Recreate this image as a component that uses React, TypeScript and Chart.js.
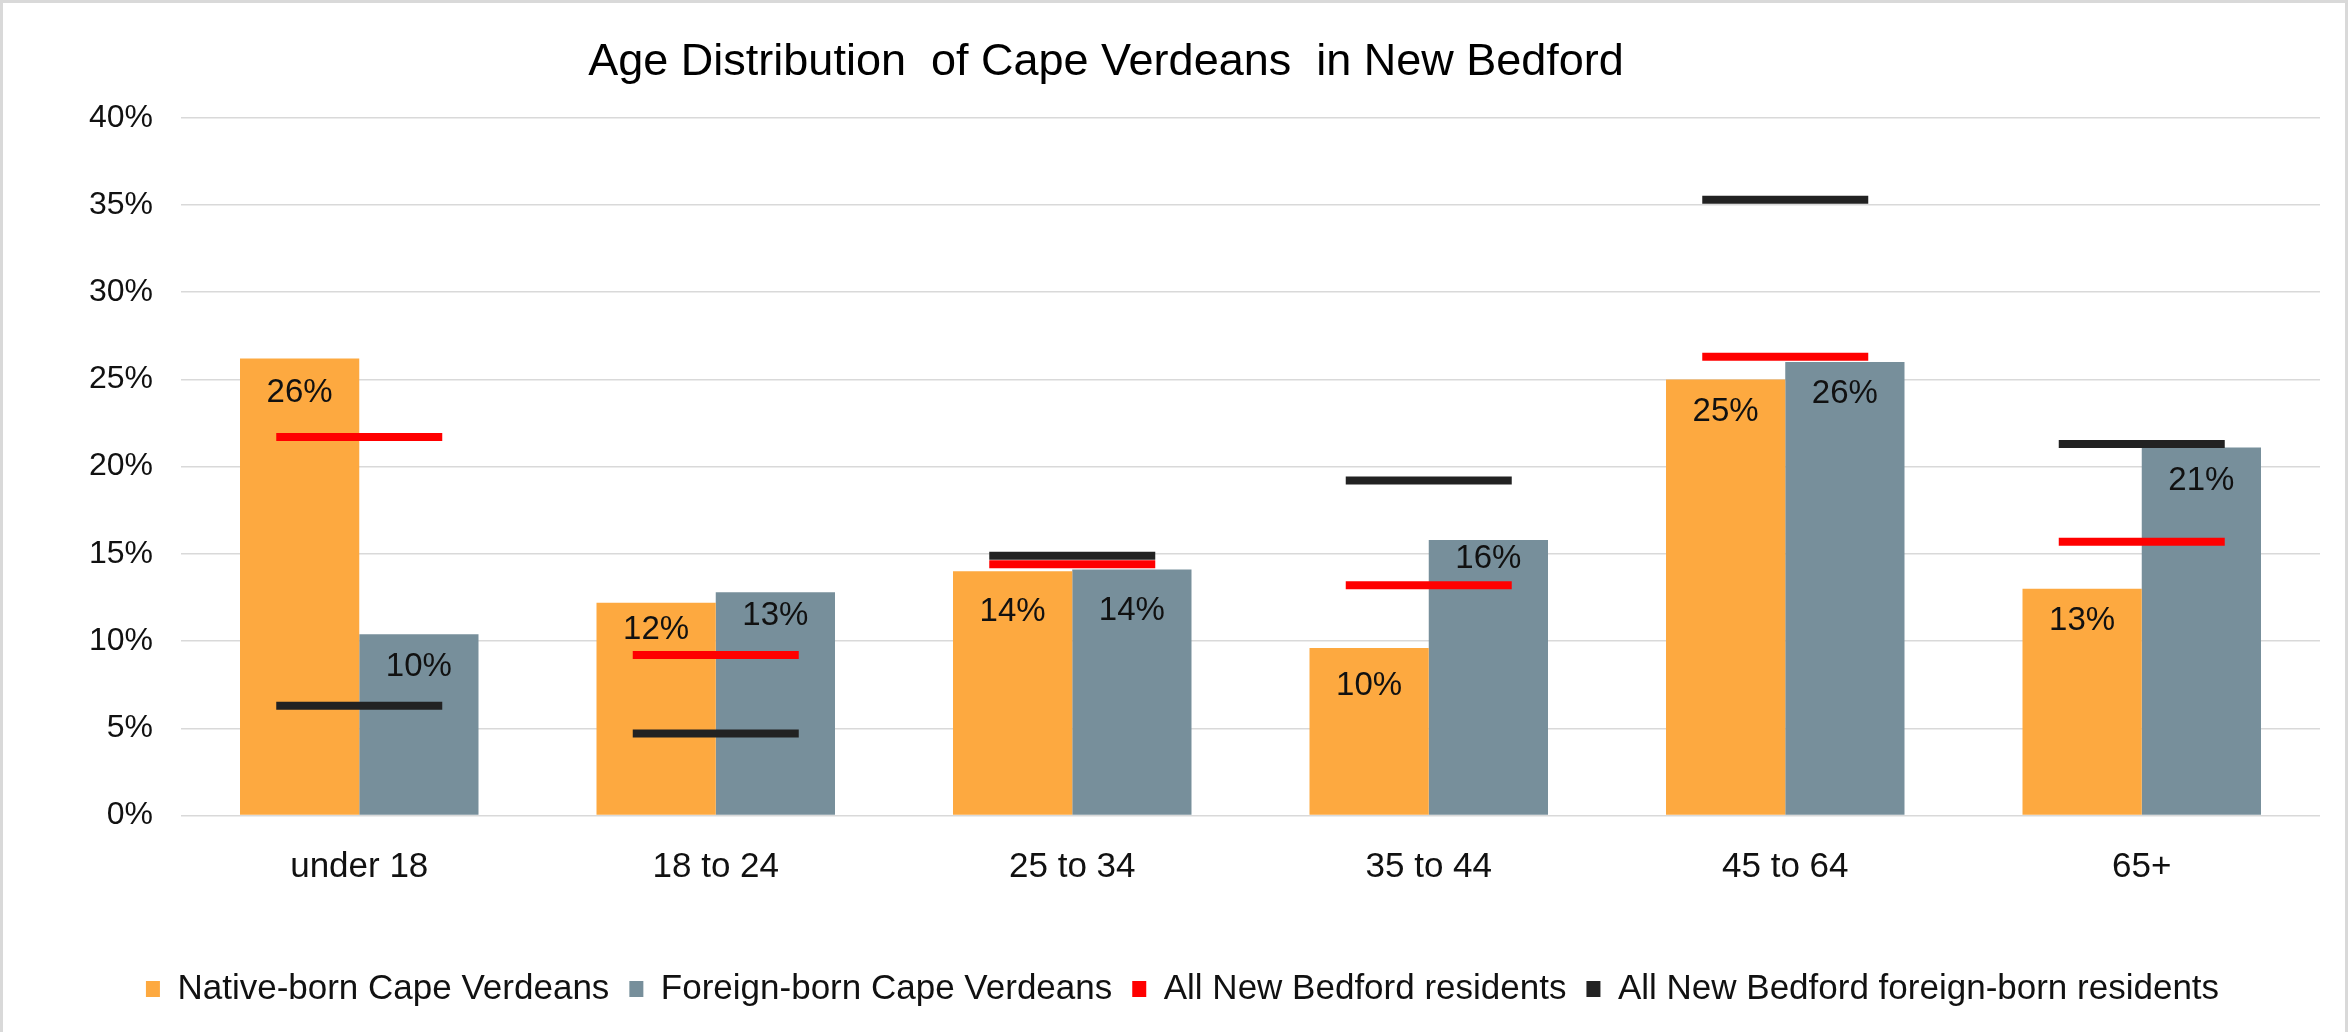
import React, { useEffect, useRef } from "react";
import { Chart, registerables } from "chart.js";

Chart.register(...registerables);

const TITLE = "Age Distribution  of Cape Verdeans  in New Bedford";
const CATEGORIES = ["under 18", "18 to 24", "25 to 34", "35 to 44", "45 to 64", "65+"];
const SERIES_NAMES = [
  "Native-born Cape Verdeans",
  "Foreign-born Cape Verdeans",
  "All New Bedford residents",
  "All New Bedford foreign-born residents",
];
const NATIVE_BORN = [26.2, 12.2, 14.0, 9.6, 25.0, 13.0];
const FOREIGN_BORN = [10.4, 12.8, 14.1, 15.8, 26.0, 21.1];
const ALL_RESIDENTS = [21.7, 9.2, 14.4, 13.2, 26.3, 15.7];
const ALL_FOREIGN_BORN = [6.3, 4.7, 14.9, 19.2, 35.3, 21.3];
const Y_MIN = 0;
const Y_MAX = 40;
const Y_STEP = 5;

// label nudges (px, relative to the default inside-end offset)
const LABEL_NUDGE = [
  [2, -5, 9, 6, 0, 0],
  [1, -8, 9, -13, 0, 1],
];

const FONT = "'Liberation Sans', Arial, sans-serif";
const COLORS = ["#FDA940", "#778F9B", "#FF0000", "#222222"];

const titlePlugin = {
  id: "customTitle",
  afterDraw(chart: any) {
    const ctx = chart.ctx;
    ctx.save();
    ctx.font = `45px ${FONT}`;
    ctx.fillStyle = "#000";
    ctx.textAlign = "center";
    ctx.textBaseline = "alphabetic";
    ctx.fillText(TITLE, chart.width * 0.471, 72);
    ctx.restore();
  },
};

const legendShiftPlugin = {
  id: "legendShift",
  afterLayout(chart: any) {
    const lg = chart.legend;
    if (lg) {
      lg.left += 21;
      lg.right += 21;
    }
  },
};

const labelPlugin = {
  id: "barLabels",
  afterDatasetsDraw(chart: any) {
    const ctx = chart.ctx;
    ctx.save();
    ctx.font = `33px ${FONT}`;
    ctx.fillStyle = "#111";
    ctx.textAlign = "center";
    ctx.textBaseline = "middle";
    [0, 1].forEach((di) => {
      const meta = chart.getDatasetMeta(di);
      meta.data.forEach((bar: any, i: number) => {
        const v = chart.data.datasets[di].data[i] as number;
        ctx.fillText(Math.round(v) + "%", bar.x, bar.y + 32 + LABEL_NUDGE[di][i]);
      });
    });
    ctx.restore();
  },
};

export default function App() {
  const ref = useRef<HTMLCanvasElement | null>(null);
  useEffect(() => {
    document.body.style.margin = "0";
    if (!ref.current) return;
    const lineDs = (label: string, data: number[], color: string, order: number) => ({
      type: "line" as const,
      label,
      data,
      order,
      showLine: false,
      borderColor: color,
      backgroundColor: color,
      pointStyle: "line",
      pointRadius: 83,
      pointHoverRadius: 83,
      pointBorderWidth: 8,
      pointBorderColor: color,
      pointBackgroundColor: color,
    });
    const chart = new Chart(ref.current, {
      type: "bar",
      data: {
        labels: CATEGORIES,
        datasets: [
          {
            type: "bar",
            label: SERIES_NAMES[0],
            data: NATIVE_BORN,
            backgroundColor: COLORS[0],
            borderWidth: 0,
            order: 3,
          },
          {
            type: "bar",
            label: SERIES_NAMES[1],
            data: FOREIGN_BORN,
            backgroundColor: COLORS[1],
            borderWidth: 0,
            order: 3,
          },
          lineDs(SERIES_NAMES[2], ALL_RESIDENTS, COLORS[2], 1),
          lineDs(SERIES_NAMES[3], ALL_FOREIGN_BORN, COLORS[3], 0),
        ] as any,
      },
      options: {
        responsive: false,
        animation: false,
        devicePixelRatio: 1,
        layout: { autoPadding: false, padding: { top: 114.7, left: 0, right: 25, bottom: 15.4 } },
        datasets: { bar: { categoryPercentage: 0.669, barPercentage: 1 } },
        scales: {
          x: {
            grid: { display: false, drawTicks: false },
            border: { display: false },
            ticks: { font: { family: FONT, size: 35 }, color: "#111", padding: 31 },
            afterFit(scale: any) {
              scale.height = 136;
              scale.paddingLeft = 0;
              scale.paddingRight = 0;
            },
          },
          y: {
            min: Y_MIN,
            max: Y_MAX,
            grid: { color: "#d9d9d9", lineWidth: 1.5, drawTicks: false },
            border: { display: false },
            ticks: {
              stepSize: Y_STEP,
              font: { family: FONT, size: 32 },
              color: "#111",
              padding: 28,
              callback: (v: any) => v + "%",
            },
            afterFit(scale: any) {
              scale.width = 178;
            },
          },
        },
        plugins: {
          title: { display: false },
          tooltip: { enabled: false },
          legend: {
            position: "bottom",
            labels: {
              font: { family: FONT, size: 35 },
              color: "#111",
              boxWidth: 14,
              boxHeight: 16,
              padding: 20,
              generateLabels: (ch: any) =>
                ch.data.datasets.map((ds: any, i: number) => ({
                  text: ds.label,
                  fillStyle: COLORS[i],
                  strokeStyle: COLORS[i],
                  lineWidth: 0,
                  hidden: false,
                  datasetIndex: i,
                  fontColor: "#111",
                })),
            },
          },
        },
      } as any,
      plugins: [titlePlugin, labelPlugin, legendShiftPlugin],
    });
    return () => chart.destroy();
  }, []);

  return (
    <div
      style={{
        width: 2348,
        height: 1032,
        boxSizing: "border-box",
        borderTop: "3px solid #d9d9d9",
        borderLeft: "3px solid #d9d9d9",
        borderRight: "3px solid #d9d9d9",
        background: "#fff",
        overflow: "hidden",
      }}
    >
      <canvas ref={ref} width={2342} height={1029} style={{ display: "block" }} />
    </div>
  );
}
